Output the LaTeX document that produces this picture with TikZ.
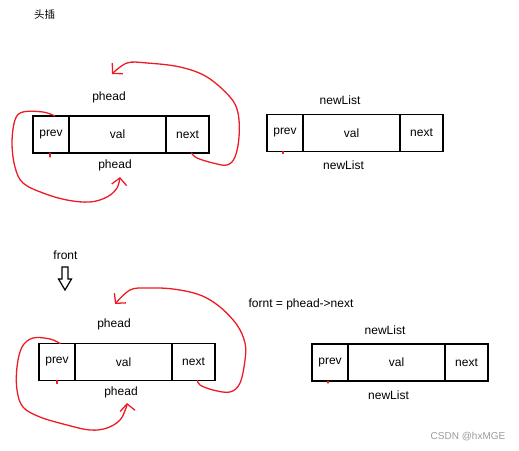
\documentclass[tikz,border=0pt]{standalone}
\usepackage{fontspec}
\setmainfont{Liberation Sans}
\newfontfamily\cjk{Noto Sans CJK SC}
\usetikzlibrary{positioning, arrows.meta}
\definecolor{penRed}{HTML}{ED1C24}
\definecolor{wmGray}{HTML}{9A9A9A}

\begin{document}
\begin{tikzpicture}[x=1pt, y=-1pt,
  cell/.style={draw, line width=1.6pt, minimum height=37pt, inner sep=0pt, outer sep=0pt, font=\fontsize{12}{14}\selectfont},
  lbl/.style={font=\fontsize{12}{14}\selectfont, inner sep=0pt},
  pen/.style={draw=penRed, line width=1.3pt, line cap=round, line join=round},
  arr/.style={pen, -{Straight Barb[length=7pt, width=15pt]}}]
\useasboundingbox (0,0) rectangle (519,450);
\node[font=\cjk\fontsize{10.5}{12}\selectfont, inner sep=0pt] (title) at (44.5,15) {头插};
% before: phead and newList
\node[cell, minimum width=36pt, anchor=west] (p1) at (33,134.5) {prev};
\node[cell, minimum width=97pt, right=0pt of p1] (v1) {val};
\node[cell, minimum width=43pt, right=0pt of v1] (n1) {\raisebox{-2pt}{next}};
\node[lbl] (ph1a) at (109,97) {phead}; \node[lbl] (ph1b) at (115,165) {phead};
\node[cell, minimum width=36pt, anchor=west] (p2) at (267,133) {prev};
\node[cell, minimum width=97pt, right=0pt of p2] (v2) {val};
\node[cell, minimum width=43pt, right=0pt of v2] (n2) {\raisebox{-2pt}{next}};
\node[lbl] (nl2a) at (340,100) {newList}; \node[lbl] (nl2b) at (343.5,165) {newList};
\draw[arr] plot[smooth, tension=0.6] coordinates {([xshift=4pt]n1.south) (197,158) (213,163) (227,165) (235,157) (239,137) (238,113) (230,97) (207,77) (180,67) (147,63) (127,63) (112,74)};
\draw[arr] plot[smooth, tension=0.6] coordinates {([xshift=4pt]p1.north) (43,112) (23,112) (15,120) (12,143) (15,167) (23,183) (43,193) (67,200) (90,202) (107,197) (117,188) (120,177)};
\draw[pen] ([xshift=-1pt]p1.south) -- ++(0,4);
\draw[pen] ([xshift=-2pt]p2.south) -- ++(0,2);
% after: front = phead->next
\node[lbl] (fr) at (65.5,255) {front};
\draw[line width=1.2pt, line join=miter] (62,267) -- (62,279) -- (58.5,279) -- (65,290) -- (71.5,279) -- (68,279) -- (68,267) -- cycle;
\node[lbl] (eq) at (301,304) {fornt = phead->next};
\node[cell, minimum width=36pt, anchor=west] (p3) at (39,362) {prev};
\node[cell, minimum width=97pt, right=0pt of p3] (v3) {val};
\node[cell, minimum width=43pt, right=0pt of v3] (n3) {\raisebox{-2pt}{next}};
\node[lbl] (ph3a) at (114,324) {phead}; \node[lbl] (ph3b) at (121,392.5) {phead};
\node[cell, minimum width=36pt, anchor=west] (p4) at (312,362.5) {prev};
\node[cell, minimum width=97pt, right=0pt of p4] (v4) {val};
\node[cell, minimum width=43pt, right=0pt of v4] (n4) {\raisebox{-2pt}{next}};
\node[lbl] (nl4a) at (385,330) {newList}; \node[lbl] (nl4b) at (388.5,395) {newList};
\draw[arr] plot[smooth, tension=0.6] coordinates {([xshift=4pt]n3.south) (200,385) (213,390) (230,392) (240,383) (245,360) (245,343) (237,325) (220,307) (200,295) (173,289) (147,288) (130,290) (115,304)};
\draw[arr] plot[smooth, tension=0.6] coordinates {([xshift=3pt]p3.north) (50,339) (33,338) (22,347) (17,367) (17,390) (23,407) (40,417) (67,425) (90,430) (107,428) (120,420) (126,408) (127,403)};
\draw[pen] (p3.south) -- ++(0,3);
\draw[pen] ([xshift=-2pt]p4.south) -- ++(0,2);
\node[font=\fontsize{10}{12}\selectfont, text=wmGray, inner sep=0pt] (wm) at (468,436.5) {CSDN @hxMGE};
\end{tikzpicture}
\end{document}
